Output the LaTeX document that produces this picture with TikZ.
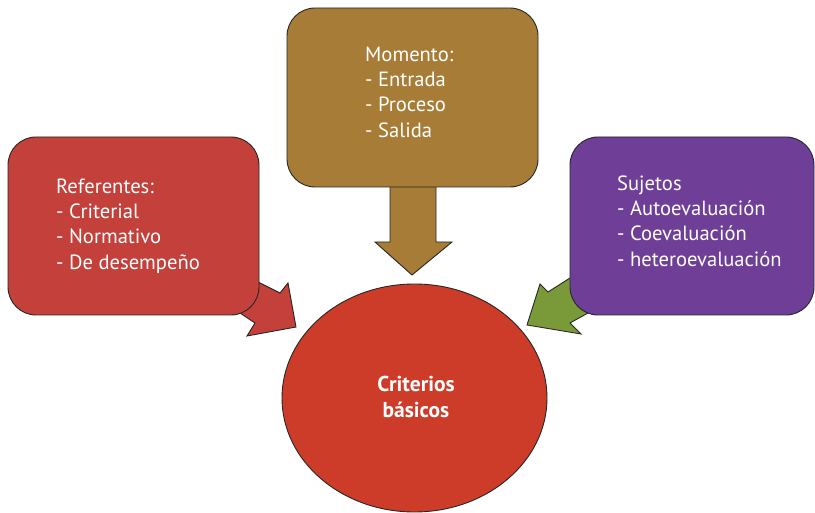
\documentclass[tikz,border=0pt]{standalone}
\usepackage{fontspec}
\setmainfont{PT Sans}
\usetikzlibrary{shapes.geometric}
\definecolor{refred}{RGB}{196,64,58}
\definecolor{momgold}{RGB}{166,124,55}
\definecolor{sujpurple}{RGB}{111,63,152}
\definecolor{arrgreen}{RGB}{122,154,58}
\definecolor{critred}{RGB}{205,60,40}
\begin{document}
\begin{tikzpicture}[x=1pt,y=-1pt,
  box/.style={draw=black!85, line width=0.9pt, rounded corners=28pt, inner sep=0pt},
  blockarrow/.style={draw=black!85, line width=0.9pt, line join=miter},
  lbl/.style={text=white, font=\fontsize{20.6}{25.3}\selectfont, align=left, inner sep=0pt, anchor=west}]
\useasboundingbox (0,0) rectangle (815,513);
% block arrows
\draw[blockarrow, fill=refred] (240,273) -- (280,293) -- (288,283) -- (296,327) -- (247,336) -- (255,323) -- (225,303) -- cycle;
\draw[blockarrow, fill=arrgreen] (592,264) -- (548,292) -- (540,284) -- (527,325) -- (581,334) -- (570,323) -- (606,303) -- cycle;
\draw[blockarrow, fill=momgold] (390,170) -- (390,242) -- (375,242) -- (412,275) -- (452,242) -- (436,242) -- (436,170) -- cycle;
% boxes
\node[box, fill=refred, minimum width=251pt, minimum height=178pt] (ref) at (133.5,226) {};
\node[box, fill=momgold, minimum width=251pt, minimum height=179pt] (mom) at (412.5,97.5) {};
\node[box, fill=sujpurple, minimum width=244pt, minimum height=178pt] (suj) at (692,226) {};
\node[ellipse, draw=black!85, line width=0.9pt, fill=critred, minimum width=265pt, minimum height=228pt, inner sep=0pt] (crit) at (414.5,398) {};
% texts
\node[lbl] (reftext) at (56,226) {Referentes:\\- Criterial\\- Normativo\\- De desempeño};
\node[lbl] (momtext) at (365,92) {Momento:\\- Entrada\\- Proceso\\- Salida};
\node[lbl] (sujtext) at (617,221) {Sujetos\\- Autoevaluación\\- Coevaluación\\- heteroevaluación};
\node[text=white, font=\bfseries\fontsize{21.5}{25.3}\selectfont, align=center, inner sep=0pt] (crittext) at (416,397) {Criterios\\ básicos};
\end{tikzpicture}
\end{document}
